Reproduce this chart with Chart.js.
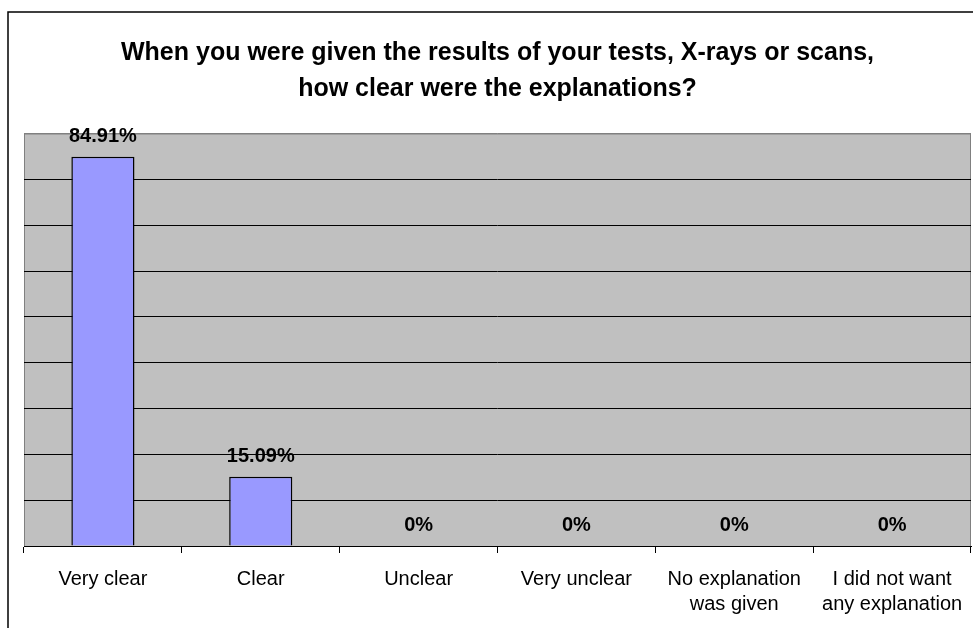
<!DOCTYPE html>
<html>
<head>
<meta charset="utf-8">
<script src="https://cdn.jsdelivr.net/npm/chart.js@4"></script>
<style>
  html, body { margin: 0; padding: 0; background: #fff; }
  #wrap { width: 973px; height: 628px; position: relative; }
</style>
</head>
<body>
<div id="wrap"><canvas id="chart"></canvas></div>
<script>
// chart data
const categories = [
  "Very clear",
  "Clear",
  "Unclear",
  "Very unclear",
  ["No explanation", "was given"],
  ["I did not want", "any explanation"],
];
const percentValues = [84.91, 15.09, 0, 0, 0, 0];
const yTicks = [0, 10, 20, 30, 40, 50, 60, 70, 80, 90];
const titleLines = [
  "When you were given the results of your tests, X-rays or scans,",
  "how clear were the explanations?",
];

function formatPct(v) {
  return v === 0 ? "0%" : v.toFixed(2) + "%";
}

// grey plot background + outer frame
const plotBackground = {
  id: "plotBackground",
  beforeDraw(chart) {
    const { ctx, chartArea: a } = chart;
    ctx.save();
    ctx.fillStyle = "#fff";
    ctx.fillRect(0, 0, chart.width, chart.height);
    ctx.fillStyle = "#c0c0c0";
    ctx.fillRect(a.left, a.top, a.right - a.left, a.bottom - a.top);
    ctx.strokeStyle = "#808080";
    ctx.lineWidth = 1;
    ctx.strokeRect(a.left + 0.5, a.top + 0.5, a.right - a.left - 1, a.bottom - a.top);
    ctx.strokeStyle = "#000";
    ctx.lineWidth = 1.5;
    ctx.strokeRect(8, 12, 1200, 1200);
    ctx.restore();
  },
};

// value labels above bars
const valueLabels = {
  id: "valueLabels",
  afterDatasetsDraw(chart) {
    const { ctx } = chart;
    const meta = chart.getDatasetMeta(0);
    ctx.save();
    ctx.font = "bold 20px 'Liberation Sans', Arial, sans-serif";
    ctx.fillStyle = "#000";
    ctx.textAlign = "center";
    ctx.textBaseline = "alphabetic";
    meta.data.forEach((bar, i) => {
      ctx.fillText(formatPct(percentValues[i]), bar.x, bar.y - 15);
    });
    ctx.restore();
  },
};

new Chart(document.getElementById("chart"), {
  type: "bar",
  data: {
    labels: categories,
    datasets: [
      {
        data: percentValues,
        backgroundColor: "#9999ff",
        borderColor: "#000",
        borderWidth: 1.5,
        borderSkipped: "bottom",
        barPercentage: 0.4,
        categoryPercentage: 1,
      },
    ],
  },
  options: {
    responsive: true,
    maintainAspectRatio: false,
    animation: false,
    layout: {
      padding: { left: 24, right: 2, top: 0, bottom: 0 },
    },
    plugins: {
      legend: { display: false },
      tooltip: { enabled: false },
      title: {
        display: true,
        text: titleLines,
        color: "#000",
        font: {
          family: "'Liberation Sans', Arial, sans-serif",
          size: 25,
          weight: "bold",
          lineHeight: 36 / 25,
        },
        padding: { top: 35, bottom: 26.5 },
      },
    },
    scales: {
      x: {
        grid: {
          display: true,
          offset: true,
          drawOnChartArea: false,
          drawTicks: true,
          tickLength: 7,
          color: "#000",
        },
        border: { display: true, color: "#000", width: 1 },
        ticks: {
          color: "#000",
          padding: 14,
          maxRotation: 0,
          autoSkip: false,
          font: {
            family: "'Liberation Sans', Arial, sans-serif",
            size: 20,
            lineHeight: 1.25,
          },
        },
        afterFit(scale) {
          scale.height = 82;
          scale.paddingLeft = 0;
          scale.paddingRight = 0;
        },
      },
      y: {
        min: 0,
        max: yTicks[yTicks.length - 1],
        afterBuildTicks(scale) {
          scale.ticks = yTicks.map((v) => ({ value: v }));
        },
        ticks: { display: false },
        border: { display: false },
        grid: {
          drawTicks: false,
          lineWidth: 1,
          color: (ctx) => (ctx.tick && ctx.tick.value === 90 ? "#808080" : "#000"),
        },
        afterFit(scale) {
          scale.width = 0;
        },
      },
    },
  },
  plugins: [plotBackground, valueLabels],
});
</script>
</body>
</html>
